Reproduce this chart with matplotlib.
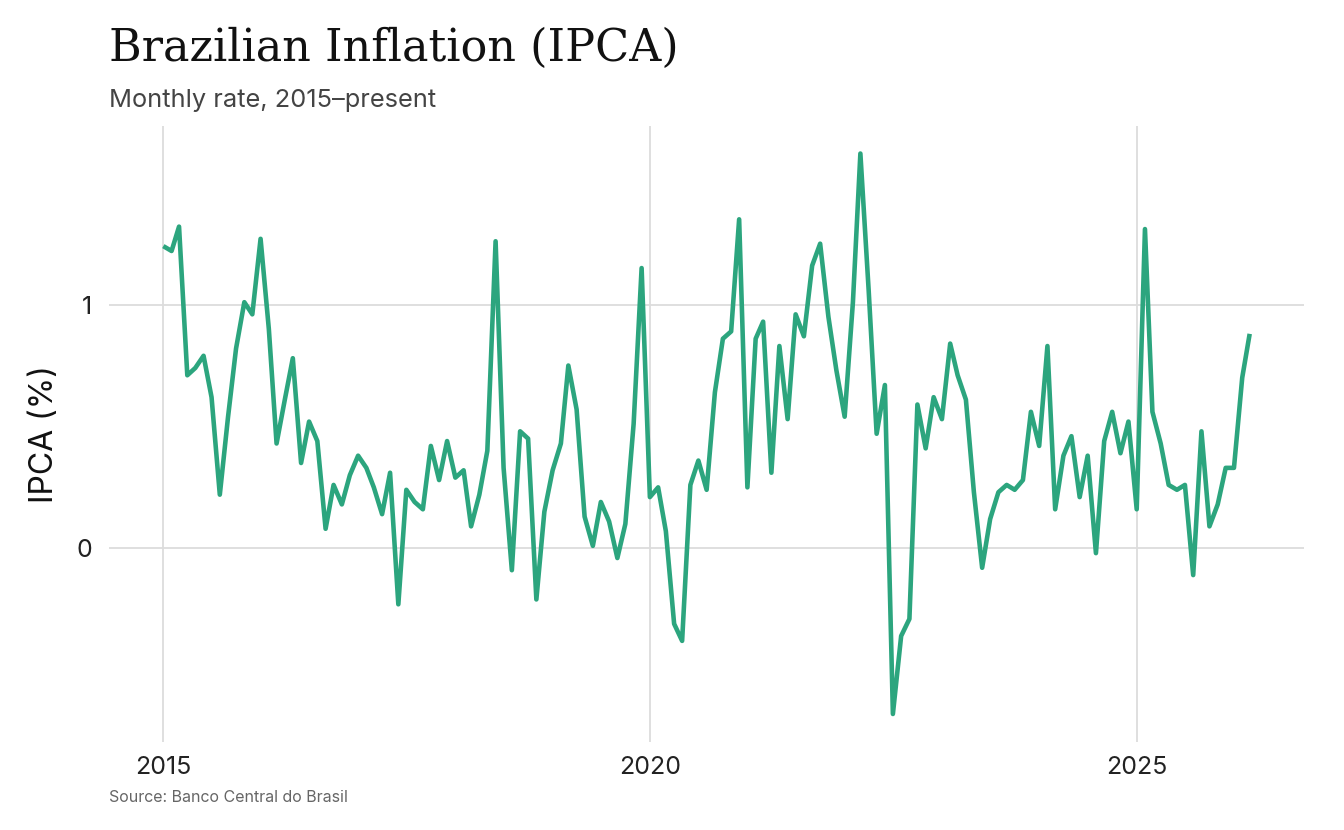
import matplotlib
matplotlib.use("Agg")
import matplotlib.pyplot as plt
import matplotlib.dates as mdates
import pandas as pd
import numpy as np

start_month = "2015-01-01"
ipca = [
    1.24, 1.22, 1.32, 0.71, 0.74, 0.79, 0.62, 0.22, 0.54, 0.82, 1.01, 0.96,
    1.27, 0.90, 0.43, 0.61, 0.78, 0.35, 0.52, 0.44, 0.08, 0.26, 0.18, 0.30,
    0.38, 0.33, 0.25, 0.14, 0.31, -0.23, 0.24, 0.19, 0.16, 0.42, 0.28, 0.44,
    0.29, 0.32, 0.09, 0.22, 0.40, 1.26, 0.33, -0.09, 0.48, 0.45, -0.21, 0.15,
    0.32, 0.43, 0.75, 0.57, 0.13, 0.01, 0.19, 0.11, -0.04, 0.10, 0.51, 1.15,
    0.21, 0.25, 0.07, -0.31, -0.38, 0.26, 0.36, 0.24, 0.64, 0.86, 0.89, 1.35,
    0.25, 0.86, 0.93, 0.31, 0.83, 0.53, 0.96, 0.87, 1.16, 1.25, 0.95, 0.73,
    0.54, 1.01, 1.62, 1.06, 0.47, 0.67, -0.68, -0.36, -0.29, 0.59, 0.41, 0.62,
    0.53, 0.84, 0.71, 0.61, 0.23, -0.08, 0.12, 0.23, 0.26, 0.24, 0.28, 0.56,
    0.42, 0.83, 0.16, 0.38, 0.46, 0.21, 0.38, -0.02, 0.44, 0.56, 0.39, 0.52,
    0.16, 1.31, 0.56, 0.43, 0.26, 0.24, 0.26, -0.11, 0.48, 0.09, 0.18, 0.33,
    0.33, 0.70, 0.88,
]
dates = pd.date_range(start_month, periods=len(ipca), freq="MS")
y_ticks = [0, 1]
y_tick_labels = ["0", "1"]
x_tick_years = [2015, 2020, 2025]

title = "Brazilian Inflation (IPCA)"
subtitle = "Monthly rate, 2015\u2013present"
ylabel = "IPCA (%)"
caption = "Source: Banco Central do Brasil"

line_color = "#2ca57e"
grid_color = "#dcdcdc"
sans = ["Inter", "DejaVu Sans"]

fig = plt.figure(figsize=(13.44, 8.30), dpi=100)
ax = fig.add_axes([109/1344, 1-742/830, (1304-109)/1344, (742-125.5)/830])

ax.plot(dates, ipca, color=line_color, lw=3.3, solid_joinstyle="round", solid_capstyle="butt")

xn = mdates.date2num(dates)
xr = xn.max() - xn.min()
ax.set_xlim(xn.min() - 0.05*xr, xn.max() + 0.05*xr)
yv = np.array(ipca)
yr = yv.max() - yv.min()
ax.set_ylim(yv.min() - 0.05*yr, yv.max() + 0.05*yr)

ax.set_xticks([mdates.date2num(pd.Timestamp(f"{yy}-01-01")) for yy in x_tick_years])
ax.set_xticklabels([str(yy) for yy in x_tick_years])
ax.set_yticks(y_ticks)
ax.set_yticklabels(y_tick_labels)

for s in ax.spines.values():
    s.set_visible(False)
ax.grid(True, color=grid_color, lw=1.3)
ax.set_axisbelow(True)
ax.tick_params(length=0, labelsize=18, labelcolor="#222222")
ax.tick_params(axis="x", pad=10)
ax.tick_params(axis="y", pad=12)
for lab in ax.get_xticklabels() + ax.get_yticklabels():
    lab.set_family(sans)
ax.set_ylabel(ylabel, family=sans, fontsize=23, color="#111111", labelpad=12)

fig.text(109/1344, 1-48/830, title, family=["DejaVu Serif"], fontsize=32, va="center", ha="left", color="#111111")
fig.text(109/1344, 1-101/830, subtitle, family=sans, fontsize=18.3, va="center", ha="left", color="#444444")
fig.text(109/1344, 1-797/830, caption, family=sans, fontsize=11.5, va="center", ha="left", color="#666666")

fig.savefig("out.png", dpi=100, facecolor="white")
